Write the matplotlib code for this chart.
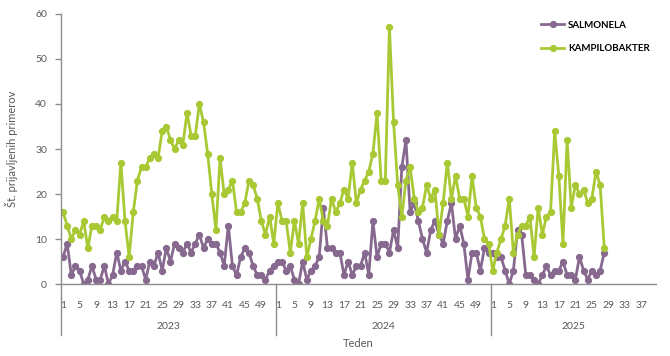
import numpy as np
import matplotlib.pyplot as plt
import matplotlib.transforms as mtransforms

plt.rcParams["font.family"] = ["Lato", "DejaVu Sans"]

years = ["2023", "2024", "2025"]
weeks_per_year = [52, 52, 40]

salmonela_2023 = [6, 9, 2, 4, 3, 0, 1, 4, 1, 1, 4, 0, 2, 7, 3, 5, 3, 3, 4, 4, 1,
                  5, 4, 7, 3, 8, 5, 9, 8, 7, 9, 7, 9, 11, 8, 10, 9, 9, 7, 4, 13,
                  4, 2, 6, 8, 7, 4, 2, 2, 1, 3, 4]
salmonela_2024 = [5, 5, 3, 4, 1, 0, 5, 1, 3, 4, 6, 17, 8, 8, 7, 7, 2, 5, 2, 4,
                  4, 7, 2, 14, 6, 9, 9, 7, 12, 8, 26, 32, 16, 18, 14, 10, 7, 12,
                  14, 11, 9, 14, 18, 10, 13, 9, 1, 7, 7, 3, 8, 7]
salmonela_2025 = [7, 6, 6, 3, 0, 3, 12, 11, 2, 2, 1, 0, 2, 4, 2, 3, 3, 5, 2, 2,
                  1, 6, 3, 1, 3, 2, 3, 7]

kampilobakter_2023 = [16, 13, 10, 12, 11, 14, 8, 13, 13, 12, 15, 14, 15, 14, 27,
                      14, 6, 16, 23, 26, 26, 28, 29, 28, 34, 35, 32, 30, 32, 31,
                      38, 33, 33, 40, 36, 29, 20, 12, 28, 20, 21, 23, 16, 16, 18,
                      23, 22, 19, 14, 11, 15, 9]
kampilobakter_2024 = [18, 14, 14, 7, 14, 9, 18, 6, 10, 14, 19, 14, 13, 19, 16,
                      18, 21, 19, 27, 18, 21, 23, 25, 29, 38, 23, 23, 57, 36, 22,
                      15, 23, 26, 19, 16, 17, 22, 19, 21, 11, 18, 27, 19, 24, 19,
                      19, 15, 24, 17, 15, 10, 9]
kampilobakter_2025 = [3, 7, 10, 13, 19, 7, 11, 13, 13, 15, 6, 17, 11, 15, 16, 34,
                      24, 9, 32, 17, 22, 20, 21, 18, 19, 25, 22, 8]

PURPLE = "#87698f"
GREEN = "#a8c934"
GREY = "#595959"
AXIS = "#8c8c8c"


def padded(values, n):
    out = np.full(n, np.nan)
    out[: len(values)] = values
    return out


def main():
    n_total = sum(weeks_per_year)
    x = np.arange(n_total)
    sal = padded(salmonela_2023 + salmonela_2024 + salmonela_2025, n_total)
    kam = padded(kampilobakter_2023 + kampilobakter_2024 + kampilobakter_2025, n_total)

    fig = plt.figure(figsize=(6.7, 3.56), dpi=100)
    ax = fig.add_axes([0.091, 0.2022, 0.888, 0.7585])

    ax.plot(x, sal, "-o", color=PURPLE, lw=2, ms=4.2, label="SALMONELA")
    ax.plot(x, kam, "-o", color=GREEN, lw=2, ms=4.2, label="KAMPILOBAKTER")

    ax.set_xlim(-0.5, n_total - 0.5)
    ax.set_ylim(0, 60)
    ax.set_yticks(np.arange(0, 61, 10))

    # week ticks: every 4th week of each year
    tick_pos, tick_lab = [], []
    start = 0
    for n in weeks_per_year:
        for w in range(1, n + 1, 4):
            tick_pos.append(start + w - 1)
            tick_lab.append(str(w))
        start += n
    ax.set_xticks(tick_pos, tick_lab)

    for side in ["top", "right"]:
        ax.spines[side].set_visible(False)
    for side in ["left", "bottom"]:
        ax.spines[side].set_color(AXIS)
        ax.spines[side].set_linewidth(1)

    ax.tick_params(axis="x", length=0, pad=12, labelsize=7.5, labelcolor=GREY)
    ax.tick_params(axis="y", length=4, width=1, color=AXIS, pad=6,
                   labelsize=7.5, labelcolor=GREY)

    # year groups under the week labels
    trans = mtransforms.blended_transform_factory(ax.transData, ax.transAxes)
    start = 0
    bounds = [-0.5]
    for year, n in zip(years, weeks_per_year):
        ax.text(start + n / 2 - 0.5, -0.159, year, transform=trans, ha="center",
                va="center", fontsize=7.5, color=GREY)
        start += n
        bounds.append(start - 0.5)
    for b in bounds[:-1]:
        ax.plot([b, b], [0, -0.19], transform=trans, color=AXIS, lw=1,
                clip_on=False)

    ax.text(0.5, -0.222, "Teden", transform=ax.transAxes, ha="center",
            va="center", fontsize=8, color=GREY)
    ax.set_ylabel("Št. prijavljenih primerov", fontsize=8, color=GREY)
    ax.yaxis.set_label_coords(-0.072, 0.5)

    ax.legend(loc="upper left", bbox_to_anchor=(0.8, 0.955),
              bbox_transform=fig.transFigure, frameon=False, borderpad=0,
              handlelength=2.4, handletextpad=0.4, labelspacing=1.5,
              prop={"size": 7, "weight": "bold"})

    fig.savefig("out.png", dpi=100)


if __name__ == "__main__":
    main()
